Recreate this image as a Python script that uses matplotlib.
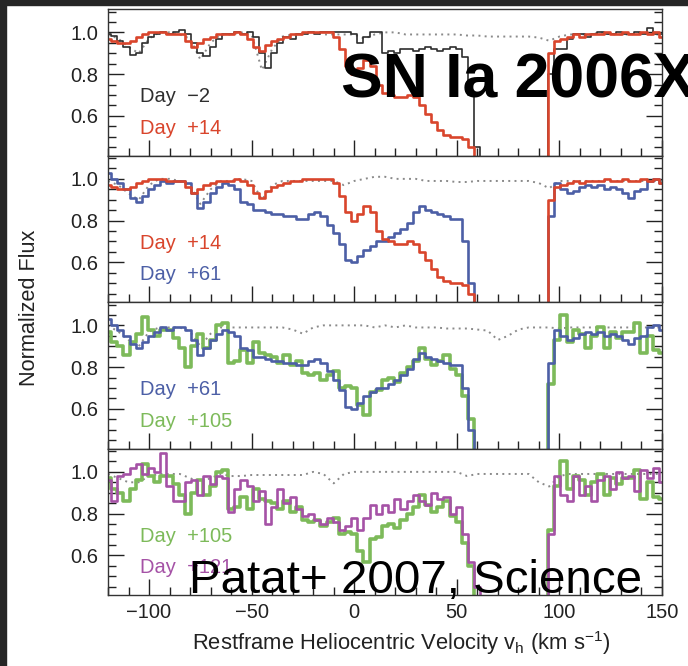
import numpy as np
import matplotlib
matplotlib.use("Agg")
import matplotlib.pyplot as plt
from matplotlib.patches import Rectangle
from matplotlib.ticker import MultipleLocator

plt.rcParams['font.family'] = ['Liberation Sans', 'DejaVu Sans']
plt.rcParams['mathtext.fontset'] = 'custom'
plt.rcParams['mathtext.rm'] = 'Liberation Sans'
plt.rcParams['mathtext.it'] = 'Liberation Sans:italic'

# Heliocentric velocity grid of the spectra (km/s), 3 km/s bins
velocity = np.arange(-120, 151, 3)

# Normalized flux, one list per epoch (10 bins per row)
flux_day_m2 = [
    0.99, 0.985, 0.96, 0.93, 0.89, 0.90, 0.95, 0.98, 0.99, 1.00,
    0.99, 1.00, 1.01, 0.99, 0.95, 0.90, 0.885, 0.93, 0.97, 0.99,
    0.99, 1.00, 0.99, 1.00, 0.98, 0.90, 0.83, 0.90, 0.95, 0.98,
    0.97, 0.99, 0.99, 1.00, 0.99, 1.00, 1.00, 1.00, 1.00, 1.00,
    0.99, 0.95, 0.98, 1.00, 1.00, 0.90, 0.91, 0.90, 0.92, 0.92,
    0.91, 0.92, 0.93, 0.92, 0.91, 0.92, 0.93, 0.92, 0.88, 0.70,
    0.45, 0.30, 0.30, 0.30, 0.30, 0.30, 0.30, 0.30, 0.30, 0.30,
    0.30, 0.35, 0.80, 0.92, 0.92, 0.97, 0.99, 0.99, 0.98, 0.99,
    1.00, 0.99, 0.99, 1.00, 0.99, 0.99, 1.00, 0.99, 1.02, 0.99,
    0.99,
]
flux_day_p14 = [
    0.97, 0.96, 0.95, 0.95, 0.96, 0.98, 0.99, 1.00, 1.00, 1.00,
    0.99, 0.99, 0.99, 0.96, 0.93, 0.95, 0.97, 0.98, 0.99, 0.99,
    0.99, 1.00, 0.99, 0.97, 0.93, 0.91, 0.94, 0.96, 0.97, 0.98,
    0.99, 0.99, 1.00, 1.00, 1.00, 1.00, 1.00, 0.98, 0.92, 0.84,
    0.80, 0.83, 0.87, 0.84, 0.75, 0.71, 0.70, 0.69, 0.69, 0.70,
    0.69, 0.65, 0.61, 0.57, 0.53, 0.51, 0.50, 0.50, 0.49, 0.45,
    0.35, 0.30, 0.30, 0.30, 0.30, 0.30, 0.30, 0.30, 0.30, 0.30,
    0.30, 0.40, 0.90, 0.96, 0.97, 0.98, 0.99, 0.98, 0.99, 0.99,
    0.99, 1.00, 0.99, 0.99, 1.00, 0.99, 0.99, 1.00, 0.99, 1.00,
    0.98,
]
flux_day_p61 = [
    1.03, 1.00, 0.98, 0.95, 0.91, 0.89, 0.92, 0.95, 0.97, 0.99,
    0.98, 0.99, 0.99, 0.98, 0.93, 0.86, 0.89, 0.93, 0.96, 0.98,
    0.97, 0.95, 0.89, 0.88, 0.85, 0.85, 0.84, 0.83, 0.83, 0.82,
    0.82, 0.81, 0.81, 0.83, 0.84, 0.82, 0.78, 0.74, 0.69, 0.61,
    0.60, 0.63, 0.66, 0.68, 0.70, 0.70, 0.72, 0.74, 0.76, 0.79,
    0.84, 0.87, 0.85, 0.84, 0.83, 0.82, 0.81, 0.81, 0.70, 0.50,
    0.35, 0.30, 0.30, 0.30, 0.30, 0.30, 0.30, 0.30, 0.30, 0.30,
    0.30, 0.38, 0.82, 0.98, 0.95, 0.93, 0.94, 0.96, 0.97, 0.96,
    0.97, 0.95, 0.96, 0.95, 0.93, 0.91, 0.94, 0.95, 0.99, 1.00,
    0.98,
]
flux_day_p105 = [
    0.97, 0.92, 0.90, 0.86, 0.92, 0.96, 1.04, 0.98, 0.95, 0.98,
    0.98, 0.94, 0.89, 0.80, 0.90, 0.96, 0.89, 0.93, 1.00, 1.01,
    0.82, 0.83, 0.88, 0.82, 0.92, 0.87, 0.86, 0.85, 0.82, 0.86,
    0.81, 0.83, 0.77, 0.76, 0.77, 0.74, 0.76, 0.78, 0.70, 0.71,
    0.70, 0.62, 0.57, 0.68, 0.69, 0.74, 0.75, 0.73, 0.77, 0.80,
    0.83, 0.89, 0.84, 0.81, 0.83, 0.86, 0.79, 0.76, 0.66, 0.55,
    0.38, 0.30, 0.30, 0.30, 0.30, 0.30, 0.30, 0.30, 0.30, 0.30,
    0.30, 0.35, 0.72, 0.93, 1.05, 0.92, 0.98, 0.96, 0.89, 0.95,
    0.99, 0.89, 0.97, 0.94, 0.97, 0.97, 1.01, 0.87, 0.95, 0.88,
    0.87,
]
flux_day_p121 = [
    0.96, 0.86, 0.98, 0.99, 1.02, 1.04, 0.99, 1.02, 1.00, 1.09,
    0.93, 0.86, 0.86, 0.95, 0.96, 0.89, 0.98, 0.94, 0.98, 0.97,
    0.81, 0.92, 0.96, 0.93, 0.86, 0.91, 0.75, 0.83, 0.92, 0.85,
    0.88, 0.82, 0.79, 0.80, 0.77, 0.75, 0.78, 0.76, 0.72, 0.74,
    0.78, 0.72, 0.78, 0.84, 0.80, 0.84, 0.81, 0.87, 0.82, 0.86,
    0.89, 0.86, 0.84, 0.90, 0.87, 0.88, 0.80, 0.83, 0.70, 0.57,
    0.45, 0.40, 0.30, 0.30, 0.30, 0.30, 0.30, 0.30, 0.30, 0.30,
    0.30, 0.33, 0.70, 0.98, 0.89, 0.86, 0.98, 0.89, 0.93, 0.86,
    0.96, 0.98, 0.92, 1.00, 0.97, 0.98, 0.91, 1.01, 0.97, 1.02,
    0.95,
]

# Reference (dotted) spectra on a 5 km/s grid, one per panel
ref_velocity = np.arange(-120, 151, 5)
ref_panel1 = [
    0.99, 0.97, 0.93, 0.90, 0.97, 1.00, 1.00, 0.99, 0.97, 0.87,
    0.95, 0.99, 0.99, 1.00, 0.99, 0.82, 0.92, 0.98, 0.99, 0.99,
    1.00, 0.99, 0.99, 0.99, 0.99, 0.97, 0.99, 1.00, 1.00, 0.99,
    0.99, 0.99, 0.99, 0.99, 0.99, 0.985, 0.985, 0.98, 0.98, 0.98,
    0.98, 0.98, 0.975, 0.96, 0.98, 0.99, 0.99, 0.99, 1.00, 0.99,
    0.99, 0.99, 1.00, 0.99, 0.99,
]
ref_panel2 = [
    0.99, 0.97, 0.93, 0.90, 0.97, 1.00, 1.00, 0.99, 0.97, 0.88,
    0.95, 0.99, 0.99, 1.00, 0.99, 0.90, 0.97, 0.99, 0.99, 0.99,
    0.99, 0.99, 0.99, 0.97, 0.99, 1.00, 1.01, 1.01, 1.00, 1.00,
    1.00, 0.99, 0.99, 0.99, 0.985, 0.985, 0.99, 0.99, 0.99, 0.99,
    0.99, 0.99, 0.98, 0.955, 0.99, 0.99, 0.99, 0.99, 0.99, 0.99,
    0.99, 0.99, 0.99, 0.99, 0.99,
]
ref_panel3 = [
    1.00, 0.97, 0.93, 0.90, 0.97, 0.99, 0.99, 0.99, 0.97, 0.90,
    0.96, 0.99, 0.99, 0.99, 0.99, 0.99, 0.99, 0.99, 0.98, 0.96,
    0.99, 1.00, 1.00, 1.00, 1.00, 1.00, 0.99, 1.00, 0.99, 1.00,
    0.99, 0.99, 0.99, 0.985, 0.985, 0.985, 0.98, 0.975, 0.93, 0.95,
    0.98, 0.99, 0.99, 0.99, 0.985, 0.99, 0.99, 0.99, 0.99, 0.99,
    0.99, 0.99, 0.99, 0.99, 0.99,
]
ref_panel4 = [
    0.99, 0.97, 0.95, 0.95, 0.98, 0.99, 0.99, 0.99, 0.97, 0.95,
    0.97, 0.99, 0.98, 0.98, 0.985, 0.985, 0.985, 0.985, 0.985, 0.985,
    1.00, 0.99, 0.945, 0.99, 1.00, 1.00, 1.00, 1.00, 1.00, 1.00,
    1.00, 1.00, 1.00, 1.00, 1.00, 0.98, 0.99, 0.99, 0.99, 0.99,
    0.99, 0.99, 0.95, 0.93, 0.98, 0.99, 0.99, 0.99, 0.99, 0.99,
    0.99, 0.99, 0.99, 0.99, 0.99,
]

c_m2 = '#2e2e2e'
c_p14 = '#d9452c'
c_p61 = '#4c5fa6'
c_p105 = '#7dba5a'
c_p121 = '#a552a6'

# (flux, colour, linewidth)
panels = [
    dict(ref=ref_panel1,
         lines=[(flux_day_m2, c_m2, 1.2), (flux_day_p14, c_p14, 1.9)],
         labels=[("Day  \u22122", c_m2), ("Day  +14", c_p14)]),
    dict(ref=ref_panel2,
         lines=[(flux_day_p61, c_p61, 1.9), (flux_day_p14, c_p14, 1.9)],
         labels=[("Day  +14", c_p14), ("Day  +61", c_p61)]),
    dict(ref=ref_panel3,
         lines=[(flux_day_p105, c_p105, 2.6), (flux_day_p61, c_p61, 1.9)],
         labels=[("Day  +61", c_p61), ("Day  +105", c_p105)]),
    dict(ref=ref_panel4,
         lines=[(flux_day_p105, c_p105, 2.6), (flux_day_p121, c_p121, 1.9)],
         labels=[("Day  +105", c_p105), ("Day  +121", c_p121)]),
]

fig = plt.figure(figsize=(6.88, 6.66), dpi=100)
axes = fig.subplots(4, 1, sharex=True, gridspec_kw=dict(hspace=0))
fig.subplots_adjust(left=108 / 688, right=662 / 688,
                    top=1 - 9 / 666, bottom=1 - 595 / 666)

for ax, p in zip(axes, panels):
    ax.plot(ref_velocity, p['ref'], color='#8a8a8a', lw=1.4,
            linestyle=(0, (1, 2.2)), zorder=1)
    for flux, col, lw in p['lines']:
        ax.plot(velocity, flux, color=col, lw=lw, drawstyle='steps-mid',
                zorder=2)
    (t1, c1), (t2, c2) = p['labels']
    ax.text(-104.5, 0.665, t1, color=c1, fontsize=14.5, va='baseline')
    ax.text(-104.5, 0.515, t2, color=c2, fontsize=14.5, va='baseline')
    ax.set_xlim(-120, 150)
    ax.set_ylim(0.41, 1.112)
    ax.xaxis.set_major_locator(MultipleLocator(50))
    ax.xaxis.set_minor_locator(MultipleLocator(10))
    ax.set_yticks([0.6, 0.8, 1.0])
    ax.set_yticklabels(['0.6', '0.8', '1.0'])
    ax.yaxis.set_minor_locator(MultipleLocator(0.05))
    ax.tick_params(which='both', direction='in', left=True, right=True,
                   top=False, bottom=True, colors='#222222', width=1.0,
                   labelsize=14.5, pad=7)
    ax.tick_params(which='major', length=11.5)
    ax.tick_params(which='minor', length=5.8)
    for s in ax.spines.values():
        s.set_linewidth(1.0)
        s.set_color('#333333')

axes[-1].tick_params(axis='x', pad=6)

fig.text(401 / 688, 1 - 643 / 666,
         r"Restframe Heliocentric Velocity v$_{\mathrm{h}}$ (km s$^{\mathrm{-1}}$)",
         ha='center', va='center', fontsize=15.8, color='#222222')
fig.text(30 / 688, 1 - 308 / 666, "Normalized Flux", rotation=90,
         ha='center', va='center', fontsize=15.6, color='#222222')

fig.text(341 / 688, 1 - 97 / 666, "SN Ia 2006X", fontsize=45,
         fontweight='bold', color='black', va='baseline', zorder=5)
fig.text(189 / 688, 1 - 593 / 666, "Patat+ 2007, Science", fontsize=34.2,
         color='black', va='baseline', zorder=5)

# dark frame strips along the top and left edges
fig.patches.append(Rectangle((0, 1 - 5 / 666), 1, 5 / 666,
                             transform=fig.transFigure, color='#262626',
                             zorder=10))
fig.patches.append(Rectangle((0, 0), 6 / 688, 1,
                             transform=fig.transFigure, color='#262626',
                             zorder=10))

fig.savefig('out.png', dpi=100)
